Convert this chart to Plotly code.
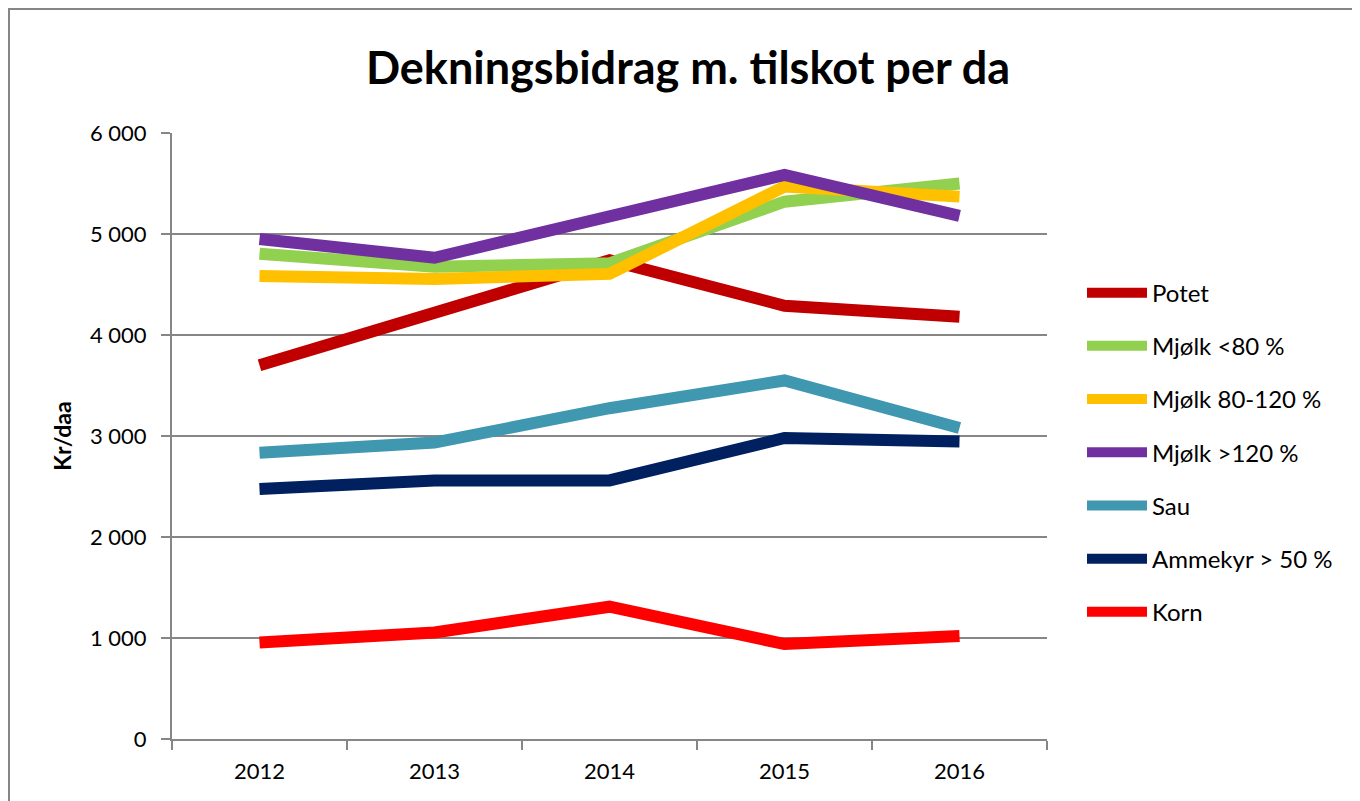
import plotly.graph_objects as go

years = ["2012", "2013", "2014", "2015", "2016"]
potet = [3700, 4230, 4740, 4290, 4180]
mjolk_lt80 = [4805, 4675, 4710, 5320, 5500]
mjolk_80_120 = [4585, 4555, 4605, 5470, 5370]
mjolk_gt120 = [4950, 4765, 5175, 5585, 5180]
sau = [2835, 2935, 3275, 3550, 3080]
ammekyr = [2475, 2560, 2560, 2980, 2945]
korn = [955, 1055, 1310, 940, 1020]

series = [
    ("Potet", potet, "#C00000"),
    ("Mjølk <80 %", mjolk_lt80, "#92D050"),
    ("Mjølk 80-120 %", mjolk_80_120, "#FFC000"),
    ("Mjølk >120 %", mjolk_gt120, "#7030A0"),
    ("Sau", sau, "#4097B0"),
    ("Ammekyr > 50 %", ammekyr, "#002060"),
    ("Korn", korn, "#FF0000"),
]

FONT = "Lato"
fig = go.Figure()
for i, (name, vals, col) in enumerate(series):
    fig.add_trace(go.Scatter(
        x=years, y=vals, name=name, mode="lines",
        line=dict(color=col, width=12),
        legendgroup=f"g{i}",
    ))

grid = "#868686"
fig.update_layout(
    width=1352, height=793,
    paper_bgcolor="white", plot_bgcolor="white",
    margin=dict(l=164, r=313, t=125, b=62),
    separators=", ",
    title=dict(text="<b>Dekningsbidrag m. tilskot per da</b>",
               x=(688 - 8) / 1352, xanchor="center", y=1 - (68 - 8) / 793, yanchor="middle",
               font=dict(family=FONT, size=45, color="black")),
    font=dict(family=FONT, color="black"),
    xaxis=dict(type="category", tickson="boundaries", ticks="outside", ticklen=9,
               range=[-0.5, 4.5],
               tickcolor=grid, tickwidth=2, showline=True, linecolor=grid, linewidth=2,
               showgrid=False, tickfont=dict(size=22, family=FONT), zeroline=False,
               ticklabelstandoff=12),
    yaxis=dict(range=[0, 6000], dtick=1000, tickformat=",", ticks="outside", ticklen=9,
               tickcolor=grid, tickwidth=2, showline=True, linecolor=grid, linewidth=2,
               showgrid=True, gridcolor=grid, gridwidth=2, zeroline=False,
               tickfont=dict(size=22, family=FONT), ticklabelstandoff=10,
               title=dict(text="<b>Kr/daa</b>", font=dict(size=23, family=FONT), standoff=12)),
    legend=dict(x=1.040, y=0.773, xanchor="left", yanchor="top",
                font=dict(size=24, family=FONT), tracegroupgap=19, itemwidth=60,
                bgcolor="rgba(0,0,0,0)"),
    showlegend=True,
)

# outer chart border
fig.add_shape(type="rect", xref="paper", yref="paper",
              x0=(9 - 172) / 875, x1=(1375 - 172) / 875,
              y0=(739 - 815) / 606, y1=(739 - 9) / 606,
              line=dict(color=grid, width=2), fillcolor="rgba(0,0,0,0)", layer="below")

fig.write_html("out.html")
